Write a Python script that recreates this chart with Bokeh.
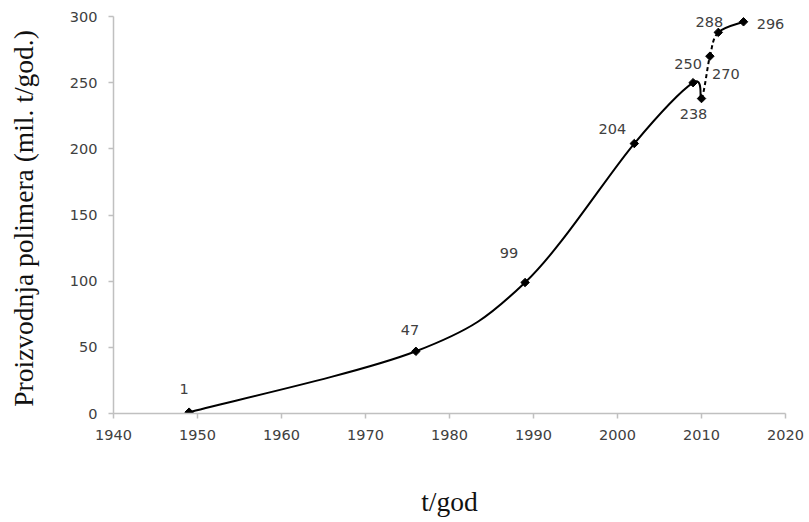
import numpy as np
from bokeh.plotting import figure
from bokeh.models import ColumnDataSource, FixedTicker, Range1d, Label
from bokeh.embed import file_html
from bokeh.resources import INLINE

# ---- data ----
years = [1949, 1976, 1989, 2002, 2009, 2010, 2011, 2012, 2015]
production = [1, 47, 99, 204, 250, 238, 270, 288, 296]
labels = ["1", "47", "99", "204", "250", "238", "270", "288", "296"]
dashed_segments = [5, 6]  # segment index i joins point i and i+1
x_ticks = [1940, 1950, 1960, 1970, 1980, 1990, 2000, 2010, 2020]
y_ticks = [0, 50, 100, 150, 200, 250, 300]

# label offsets (screen px, +y = up) for the value labels
label_dx = [-5, -6, -16, -22, -5, -8, 16, -9, 27]
label_dy = [23, 21, 29, 15, 19, -15, -18, 10, -2]

p = figure(width=809, height=522, output_backend="svg", toolbar_location=None,
           x_range=Range1d(1940, 2020), y_range=Range1d(0, 300),
           min_border_left=113, min_border_right=24, min_border_top=16,
           min_border_bottom=109)
p.outline_line_color = None
p.xgrid.visible = False
p.ygrid.visible = False
p.background_fill_color = "white"

# smoothed line (Excel-like smoothing via Catmull-Rom bezier control points)
xs = np.array(years, dtype=float)
ys = np.array(production, dtype=float)
n = len(xs)
seg = {"solid": dict(x0=[], y0=[], x1=[], y1=[], cx0=[], cy0=[], cx1=[], cy1=[]),
       "dash": dict(x0=[], y0=[], x1=[], y1=[], cx0=[], cy0=[], cx1=[], cy1=[])}
for i in range(n - 1):
    i0 = max(i - 1, 0)
    i3 = min(i + 2, n - 1)
    c0x = xs[i] + (xs[i + 1] - xs[i0]) / 6
    c0y = ys[i] + (ys[i + 1] - ys[i0]) / 6
    c1x = xs[i + 1] - (xs[i3] - xs[i]) / 6
    c1y = ys[i + 1] - (ys[i3] - ys[i]) / 6
    d = seg["dash" if i in dashed_segments else "solid"]
    d["x0"].append(xs[i]); d["y0"].append(ys[i])
    d["x1"].append(xs[i + 1]); d["y1"].append(ys[i + 1])
    d["cx0"].append(c0x); d["cy0"].append(c0y)
    d["cx1"].append(c1x); d["cy1"].append(c1y)

p.bezier(x0="x0", y0="y0", x1="x1", y1="y1", cx0="cx0", cy0="cy0", cx1="cx1", cy1="cy1",
         source=ColumnDataSource(seg["solid"]), line_color="black", line_width=2)
p.bezier(x0="x0", y0="y0", x1="x1", y1="y1", cx0="cx0", cy0="cy0", cx1="cx1", cy1="cy1",
         source=ColumnDataSource(seg["dash"]), line_color="black", line_width=2,
         line_dash="4 3")

src = ColumnDataSource(dict(x=years, y=production))
p.scatter("x", "y", source=src, marker="square", angle=np.pi / 4, size=6,
          fill_color="black", line_color="black")
for xv, yv, lab, dx, dy in zip(years, production, labels, label_dx, label_dy):
    p.add_layout(Label(x=xv, y=yv, text=lab, x_offset=dx, y_offset=dy,
                       text_align="center", text_baseline="middle",
                       text_font="DejaVu Sans", text_font_size="14.5px",
                       text_color="#404040"))

for ax in (p.xaxis[0], p.yaxis[0]):
    ax.axis_line_color = "#c0c0c0"
    ax.axis_line_width = 1.5
    ax.major_tick_line_color = "#c0c0c0"
    ax.major_tick_line_width = 1.5
    ax.major_tick_in = 0
    ax.major_tick_out = 5
    ax.minor_tick_line_color = None
    ax.major_label_text_font = "DejaVu Sans"
    ax.major_label_text_font_size = "14.5px"
    ax.major_label_text_color = "#404040"
    ax.major_label_standoff = 11
    ax.axis_label_text_font = "Liberation Serif"
    ax.axis_label_text_font_style = "normal"
    ax.axis_label_text_color = "#111111"

p.xaxis.ticker = FixedTicker(ticks=x_ticks)
p.yaxis.ticker = FixedTicker(ticks=y_ticks)
p.xaxis.axis_label = "t/god"
p.xaxis.axis_label_text_font_size = "27.5px"
p.xaxis.axis_label_standoff = 43
p.yaxis.axis_label = "Proizvodnja polimera (mil.  t/god.)"
p.yaxis.axis_label_text_font_size = "27.5px"
p.yaxis.axis_label_standoff = 28

open("out.html", "w").write(file_html(p, INLINE))
